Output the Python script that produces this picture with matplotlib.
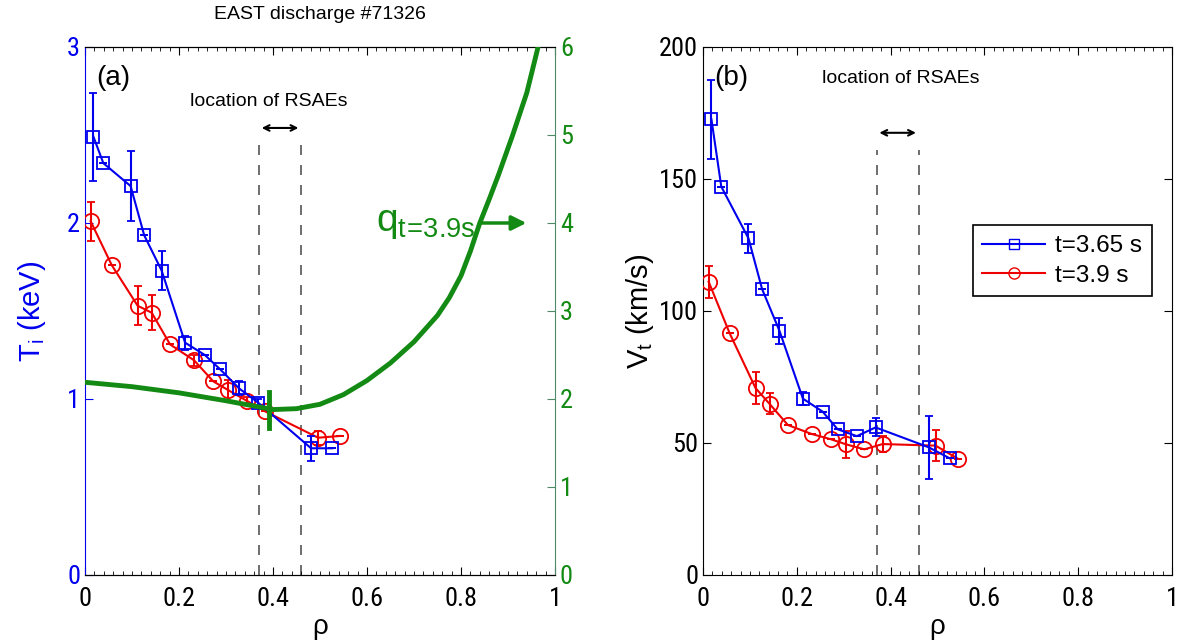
import matplotlib
matplotlib.use("Agg")
import matplotlib.pyplot as plt
from matplotlib.ticker import MultipleLocator
from matplotlib.lines import Line2D
from matplotlib import font_manager

# ---------------- data ----------------
rho_a = [0.018, 0.039, 0.097, 0.126, 0.163, 0.213, 0.255, 0.287, 0.328, 0.368, 0.481, 0.526]
rho_b = [0.012, 0.057, 0.112, 0.142, 0.181, 0.232, 0.273, 0.305, 0.344, 0.383, 0.496, 0.543]

ti_a = [2.49, 2.34, 2.21, 1.93, 1.73, 1.32, 1.25, 1.17, 1.06, 0.98, 0.72, 0.72]
ti_a_err = [0.25, 0, 0.20, 0, 0.11, 0.04, 0, 0, 0.04, 0.02, 0.07, 0]
ti_b = [2.01, 1.76, 1.53, 1.49, 1.31, 1.22, 1.10, 1.05, 0.99, 0.93, 0.78, 0.79]
ti_b_err = [0.11, 0, 0.11, 0.10, 0, 0.03, 0, 0.06, 0.02, 0, 0.04, 0]

vt_a = [172.6, 147.1, 127.5, 108.3, 92.5, 66.8, 61.9, 55.2, 52.6, 55.9, 48.4, 44.2]
vt_a_err = [15, 0, 5.5, 0, 5, 2.5, 0, 0, 0, 3.4, 12, 0]
vt_b = [111.1, 91.5, 70.8, 64.8, 56.8, 53.4, 51.4, 49.5, 47.6, 49.6, 49.0, 44.1]
vt_b_err = [6, 0, 6, 4, 0, 0, 0, 5, 0, 3, 6, 0]

q_rho = [0.0, 0.1, 0.2, 0.3, 0.35, 0.4, 0.45, 0.5, 0.55, 0.6, 0.65, 0.7, 0.75,
         0.775, 0.8, 0.82, 0.84, 0.86, 0.88, 0.91, 0.94, 0.964, 0.975]
q_val = [2.19, 2.14, 2.07, 1.98, 1.93, 1.88, 1.89, 1.94, 2.05, 2.21, 2.41, 2.65, 2.95,
         3.15, 3.40, 3.68, 4.0, 4.27, 4.55, 5.0, 5.48, 6.0, 6.25]

rsae = [0.37, 0.46]
qmin_rho = 0.392
labels = ["t=3.65 s", "t=3.9 s"]

# ---------------- style ----------------
plt.rcParams["font.family"] = ["Liberation Sans", "DejaVu Sans"]
plt.rcParams["mathtext.fontset"] = "custom"
plt.rcParams["mathtext.rm"] = "Liberation Sans"
plt.rcParams["mathtext.it"] = "Liberation Sans"

# try to find a condensed sans font for tick labels
tick_fp = None
for pref in ["Liberation Sans Narrow", "Roboto Condensed", "Open Sans Condensed", "DejaVu Sans Condensed"]:
    for f in font_manager.fontManager.ttflist:
        if (pref.replace(" ", "") in f.fname.replace("-", "").replace("_", "").replace(" ", "")
                or (f.name + " " + str(f.stretch)).lower().startswith(pref.lower().rsplit(" ", 1)[0].lower())
                and f.stretch in ("condensed", "semi-condensed")) and "Bold" not in f.fname and "Italic" not in f.fname and "Oblique" not in f.fname:
            tick_fp = f.fname
            break
    if tick_fp:
        break

def tickfont(lab, size=19):
    if tick_fp:
        lab.set_fontproperties(font_manager.FontProperties(fname=tick_fp, size=size))
    else:
        lab.set_fontsize(size)

BLUE = "#0000ee"
RED = "#ee0000"
GREEN = "#138a13"
GSPINE = "#4f8a66"

fig = plt.figure(figsize=(11.77, 6.44), dpi=100)
axa = fig.add_axes([85/1177, 69/644, 470/1177, 528/644])
axb = fig.add_axes([703/1177, 69/644, 469/1177, 528/644])

def style_x(ax):
    ax.set_xlim(0, 1)
    ax.xaxis.set_minor_locator(MultipleLocator(0.02))
    ax.tick_params(axis="x", which="both", direction="in", top=True)
    ax.tick_params(axis="x", which="major", length=6)
    ax.tick_params(axis="x", which="minor", length=3)
    ax.set_xticks([0, 0.2, 0.4, 0.6, 0.8, 1.0])
    ax.set_xticklabels(["0", "0.2", "0.4", "0.6", "0.8", "1"])
    for lab in ax.get_xticklabels():
        tickfont(lab)
    ax.tick_params(axis="x", pad=9)
    ax.set_xlabel("ρ", fontsize=20, labelpad=2)

ekw = dict(capsize=3, elinewidth=1.5, lw=1.5, mfc="none", mew=1.3)

# ---------- panel (a) ----------
axa.errorbar(rho_a, ti_a, yerr=ti_a_err, color=BLUE, marker="s", ms=9, **ekw, zorder=4)
axa.errorbar(rho_b, ti_b, yerr=ti_b_err, color=RED, marker="o", ms=11, **ekw, zorder=3)
axa.set_ylim(0, 3)
axa.set_yticks([0, 1, 2, 3])
axa.tick_params(axis="y", direction="in", length=6, colors=BLUE, right=False)
for lab in axa.get_yticklabels():
    tickfont(lab)
    lab.set_color(BLUE)
axa.spines["left"].set_color(BLUE)
axa.spines["right"].set_visible(False)
axa.set_ylabel("T$_\\mathregular{i}$ (keV)", color=BLUE, fontsize=21, labelpad=14)
style_x(axa)
for x in rsae:
    axa.plot([x, x], [0, 2.5], ls=(0, (6, 6)), color="#555555", lw=1.2, zorder=1)
axa.annotate("", xy=(rsae[0], 2.54), xytext=(rsae[1], 2.54),
             arrowprops=dict(arrowstyle="<->", color="black", lw=1.5))
axa.text(0.39, 2.69, "location of RSAEs", ha="center", va="center", fontsize=14)
axa.text(0.025, 0.965, "(a)", transform=axa.transAxes, ha="left", va="top", fontsize=20)
axa.set_title("EAST discharge #71326", fontsize=14, pad=20)

axq = axa.twinx()
axq.plot(q_rho, q_val, color=GREEN, lw=3.5, zorder=5, solid_joinstyle="round")
axq.plot([qmin_rho, qmin_rho], [1.67, 2.08], color=GREEN, lw=3.5)
axq.set_ylim(0, 6)
axq.set_xlim(0, 1)
axq.set_yticks(range(7))
axq.tick_params(axis="y", direction="in", length=6, colors=GREEN)
for lab in axq.get_yticklabels():
    tickfont(lab)
    lab.set_color(GREEN)
axq.tick_params(axis="y", color=GSPINE)
axq.spines["right"].set_color(GSPINE)
axq.spines["left"].set_visible(False)
axq.text(0.83, 4.0, "q$_\\mathregular{t\\!=\\!3.9s}$", color=GREEN, fontsize=28, ha="right", va="center")
axq.annotate("", xy=(0.945, 4.0), xytext=(0.835, 4.0),
             arrowprops=dict(arrowstyle="-|>", color=GREEN, lw=2.5, mutation_scale=22))

# ---------- panel (b) ----------
axb.errorbar(rho_a, vt_a, yerr=vt_a_err, color=BLUE, marker="s", ms=9, **ekw, zorder=4)
axb.errorbar(rho_b, vt_b, yerr=vt_b_err, color=RED, marker="o", ms=11, **ekw, zorder=3)
axb.set_ylim(0, 200)
axb.set_yticks([0, 50, 100, 150, 200])
axb.tick_params(axis="y", direction="in", length=6, right=True)
for lab in axb.get_yticklabels():
    tickfont(lab)
axb.set_ylabel("V$_\\mathregular{t}$ (km/s)", fontsize=21, labelpad=2)
style_x(axb)
for x in rsae:
    axb.plot([x, x], [0, 161], ls=(0, (6, 6)), color="#555555", lw=1.2, zorder=1)
axb.annotate("", xy=(rsae[0], 167.5), xytext=(rsae[1], 167.5),
             arrowprops=dict(arrowstyle="<->", color="black", lw=1.5))
axb.text(0.421, 188, "location of RSAEs", ha="center", va="center", fontsize=14)
axb.text(0.025, 0.965, "(b)", transform=axb.transAxes, ha="left", va="top", fontsize=20)
handles = [Line2D([], [], color=BLUE, marker="s", ms=7, mfc="none", lw=1.5),
           Line2D([], [], color=RED, marker="o", ms=8, mfc="none", lw=1.5)]
leg = axb.legend(handles, labels, loc="upper right", bbox_to_anchor=(0.983, 0.685), fontsize=17.5,
                 frameon=True, fancybox=False, edgecolor="black", handlelength=2.6, borderpad=0.4,
                 labelspacing=0.3, handletextpad=0.4, framealpha=1)
leg.get_frame().set_linewidth(1.2)

fig.savefig("out.png", dpi=100)
